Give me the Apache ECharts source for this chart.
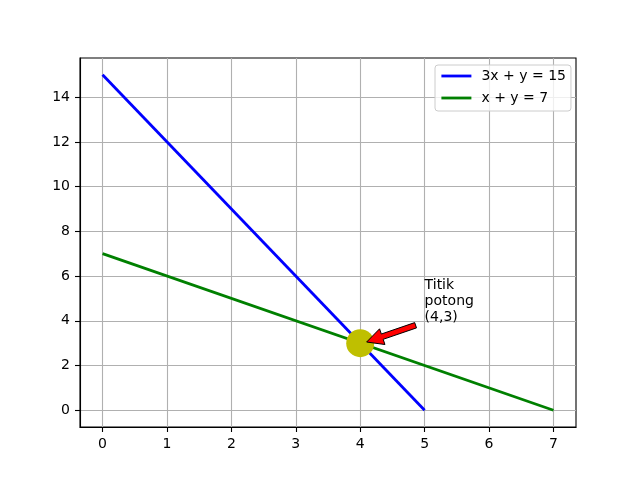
<!DOCTYPE html>
<html>
<head>
<meta charset="utf-8">
<script src="https://cdn.jsdelivr.net/npm/echarts@6/dist/echarts.min.js"></script>
<style>html,body{margin:0;padding:0;background:#fff}#c{width:640px;height:480px}</style>
</head>
<body>
<div id="c"></div>
<script>
// Data
const line1Name = '3x + y = 15';
const line1Points = [[0, 15], [5, 0]];
const line2Name = 'x + y = 7';
const line2Points = [[0, 7], [7, 0]];
const intersection = [[4, 3]];
const annotationText = 'Titik\npotong\n(4,3)';
const annotationAt = [5, 4];
const arrowFrom = [4.86, 3.80];
const arrowTo = [4.10, 3.05];
const xTicks = [0, 1, 2, 3, 4, 5, 6, 7];
const yTicks = [0, 2, 4, 6, 8, 10, 12, 14];

const FONT = 'DejaVu Sans';
const chart = echarts.init(document.getElementById('c'), null, {renderer: 'canvas'});

function axisOpts(min, max, ticks) {
  return {
    type: 'value', min: min, max: max,
    axisLine: {show: true, onZero: false, lineStyle: {color: '#000', width: 1.1}},
    axisTick: {show: true, customValues: ticks, length: 5, inside: false, lineStyle: {color: '#000', width: 1.1}},
    axisLabel: {customValues: ticks, fontFamily: FONT, fontSize: 14, color: '#000', margin: 10},
    splitLine: {show: true, lineStyle: {color: '#b0b0b0', width: 1.1}}
  };
}

chart.setOption({
  animation: false,
  backgroundColor: '#fff',
  grid: {left: 80, right: 64, top: 58, bottom: 53, show: true, borderColor: '#000', borderWidth: 1.1, backgroundColor: 'transparent'},
  legend: {
    orient: 'vertical',
    left: 435, top: 65,
    data: [line1Name, line2Name],
    itemWidth: 30, itemHeight: 14, itemGap: 8,
    padding: [4, 5, 6, 5],
    itemStyle: {opacity: 0},
    lineStyle: {width: 2.8},
    backgroundColor: 'rgba(255,255,255,0.8)',
    borderColor: '#cccccc', borderWidth: 1, borderRadius: 3,
    textStyle: {fontFamily: FONT, fontSize: 14, color: '#000', padding: [0, 0, 0, 5]}
  },
  xAxis: axisOpts(-0.35, 7.35, xTicks),
  yAxis: axisOpts(-0.75, 15.75, yTicks),
  series: [
    {name: line1Name, type: 'line', data: line1Points, symbol: 'none', color: '#0000ff', lineStyle: {color: '#0000ff', width: 2.8}, z: 2},
    {name: line2Name, type: 'line', data: line2Points, symbol: 'none', color: '#008000', lineStyle: {color: '#008000', width: 2.8}, z: 2},
    {type: 'scatter', data: intersection, symbol: 'circle', symbolSize: 28, itemStyle: {color: '#bfbf00', opacity: 1}, z: 3},
    {
      type: 'custom', z: 4, data: [[annotationAt[0], annotationAt[1]]],
      renderItem: function (params, api) {
        const p = api.coord(annotationAt);
        const a = api.coord(arrowFrom);
        const b = api.coord(arrowTo);
        const dx = b[0] - a[0], dy = b[1] - a[1];
        const L = Math.sqrt(dx * dx + dy * dy);
        const ux = dx / L, uy = dy / L, nx = -uy, ny = ux;
        const hw = 2.8, hh = 8.3, hl = 16.5;
        const bx = b[0] - ux * hl, by = b[1] - uy * hl;
        const pts = [
          [a[0] + nx * hw, a[1] + ny * hw],
          [bx + nx * hw, by + ny * hw],
          [bx + nx * hh, by + ny * hh],
          [b[0], b[1]],
          [bx - nx * hh, by - ny * hh],
          [bx - nx * hw, by - ny * hw],
          [a[0] - nx * hw, a[1] - ny * hw]
        ];
        return {
          type: 'group',
          children: [
            {type: 'polygon', shape: {points: pts}, style: {fill: '#ff0000', stroke: '#000', lineWidth: 1}},
            {type: 'text', x: p[0], y: p[1] + 5, style: {text: annotationText, fontFamily: FONT, fontSize: 14, lineHeight: 16.3, fill: '#000', align: 'left', verticalAlign: 'bottom'}}
          ]
        };
      }
    }
  ]
});
</script>
</body>
</html>
